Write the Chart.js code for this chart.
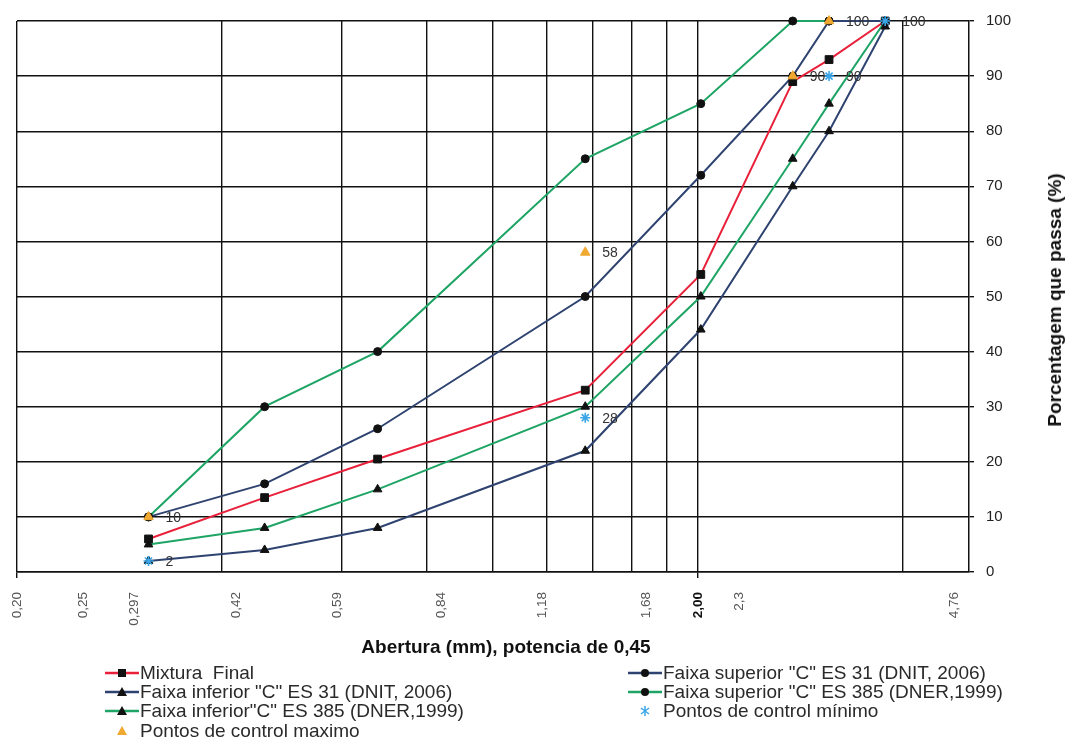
<!DOCTYPE html>
<html>
<head>
<meta charset="utf-8">
<script src="https://cdn.jsdelivr.net/npm/chart.js@4.4.0/dist/chart.umd.min.js"></script>
<style>
    body { margin: 0; background: #fff; font-family: "Liberation Sans", Arial, sans-serif; }
    #wrap { position: relative; width: 1072px; height: 739px; overflow: hidden; }
    #wrap canvas { position: absolute; left: 0; top: 0; }
    .titulo-x { position: absolute; left: 506px; top: 647px; transform: translate(-50%, -50%);
        font-weight: bold; font-size: 19px; color: #111; white-space: nowrap; }
    .titulo-y { position: absolute; left: 1055px; top: 300px; transform: translate(-50%, -50%) rotate(-90deg);
        font-weight: bold; font-size: 19px; color: #111; white-space: nowrap; }
    #legenda { position: absolute; left: 105px; top: 663px; display: grid;
        grid-template-columns: 523px auto; grid-auto-rows: 19.3px; }
    .leg { display: flex; align-items: center; font-size: 19px; color: #2a2a2a; white-space: pre; }
    .leg svg { margin-right: 1px; flex: none; }
</style>
</head>
<body>
<div id="wrap">
    <canvas id="grafico" width="1072" height="739"></canvas>
    <div class="titulo-x">Abertura (mm), potencia de 0,45</div>
    <div class="titulo-y">Porcentagem que passa (%)</div>
    <div id="legenda"></div>
</div>
<script>
// abertura das peneiras elevada a 0,45
const aberturaPot = [0.312, 0.462, 0.677, 1.366, 2.019, 2.755, 3.115, 3.766];

// % passante
const mixturaFinal  = [6, 13.5, 20.5, 33, 54, 89, 93, 100];
const supES31       = [10, 16, 26, 50, 72, 90, 100, 100];
const infES31       = [2, 4, 8, 22, 44, 70, 80, 99];
const supES385      = [10, 30, 40, 75, 85, 100, 100, 100];
const infES385      = [5, 8, 15, 30, 50, 75, 85, 100];

// pontos de controle
const pontosMinX = [0.312, 1.366, 3.115, 3.766];
const pontosMin  = [2, 28, 90, 100];
const pontosMaxX = [0.312, 1.366, 2.755, 3.115];
const pontosMax  = [10, 58, 90, 100];

// eixo x
const valoresRotulosX = [0.20, 0.25, 0.297, 0.42, 0.59, 0.84, 1.18, 1.68, 2.00, 2.3, 4.76];
const rotulosX = ['0,20', '0,25', '0,297', '0,42', '0,59', '0,84', '1,18', '1,68', '2,00', '2,3', '4,76'];
const linhasGradeX = [0.2, 0.4, 0.6, 0.8, 1.0, 1.2, 1.4, 1.6, 1.8, 2.0, 4.0];

const FONTE = '"Liberation Sans", Arial, sans-serif';
const VERMELHO = '#e8203a';
const AZUL = '#2f4370';
const VERDE = '#1ea464';

const pares = (xs, ys) => xs.map((x, i) => ({ x: x, y: ys[i] }));

function serie(label, ys, cor, estilo, raio, ordem) {
    return {
        label: label,
        data: pares(aberturaPot, ys),
        borderColor: cor,
        borderWidth: 2,
        pointStyle: estilo,
        pointRadius: raio,
        pointBackgroundColor: '#111',
        pointBorderColor: '#111',
        pointBorderWidth: 1,
        tension: 0,
        clip: 10,
        order: ordem
    };
}

const datasets = [
    serie('Mixtura  Final', mixturaFinal, VERMELHO, 'rect', 5.5, 1),
    serie('Faixa superior "C" ES 31 (DNIT, 2006)', supES31, AZUL, 'circle', 4, 2),
    serie('Faixa inferior "C" ES 31 (DNIT, 2006)', infES31, AZUL, 'triangle', 5, 3),
    serie('Faixa superior "C" ES 385 (DNER,1999)', supES385, VERDE, 'circle', 4, 4),
    serie('Faixa inferior"C" ES 385 (DNER,1999)', infES385, VERDE, 'triangle', 5, 5),
    {
        label: 'Pontos de control mínimo',
        data: pares(pontosMinX, pontosMin),
        showLine: false,
        pointStyle: 'star',
        pointRadius: 5,
        pointBorderColor: '#3aa6e8',
        pointBorderWidth: 1.6,
        borderColor: '#3aa6e8',
        clip: 10,
        order: 0,
        mostrarValor: true
    },
    {
        label: 'Pontos de control maximo',
        data: pares(pontosMaxX, pontosMax),
        showLine: false,
        pointStyle: 'triangle',
        pointRadius: 5.5,
        pointBackgroundColor: '#f0a830',
        pointBorderColor: '#f0a830',
        borderColor: '#f0a830',
        clip: 10,
        order: 0,
        mostrarValor: true
    }
];

// rótulos de valor ao lado dos pontos de controle
const rotulosValores = {
    id: 'rotulosValores',
    afterDatasetsDraw(chart) {
        const ctx = chart.ctx;
        chart.data.datasets.forEach((ds, i) => {
            if (!ds.mostrarValor) return;
            const meta = chart.getDatasetMeta(i);
            ctx.save();
            ctx.font = '14px ' + FONTE;
            ctx.fillStyle = '#333';
            ctx.textBaseline = 'middle';
            meta.data.forEach((pt, j) => ctx.fillText(String(ds.data[j].y), pt.x + 17, pt.y + 1));
            ctx.restore();
        });
    }
};

new Chart(document.getElementById('grafico'), {
    type: 'line',
    data: { datasets: datasets },
    plugins: [rotulosValores],
    options: {
        responsive: false,
        animation: false,
        layout: { padding: { left: 17, top: 20, right: 0, bottom: 0 } },
        plugins: { legend: { display: false }, tooltip: { enabled: false } },
        scales: {
            x: {
                type: 'logarithmic',
                position: 'bottom',
                min: 0.2,
                max: 5,
                weight: 0,
                afterBuildTicks: s => { s.ticks = linhasGradeX.map(v => ({ value: v })); },
                afterFit: s => { s.height = 6; },
                ticks: { display: false },
                grid: {
                    color: '#111',
                    lineWidth: 1.4,
                    drawTicks: true,
                    tickLength: 6,
                    tickColor: c => (c.tick && (c.tick.value === 0.2 || c.tick.value === 2)) ? '#111' : 'rgba(0,0,0,0)'
                },
                border: { color: '#111', width: 1.5 }
            },
            xRot: {
                type: 'logarithmic',
                axis: 'x',
                position: 'bottom',
                min: 0.2,
                max: 5,
                weight: 1,
                afterBuildTicks: s => { s.ticks = valoresRotulosX.map(v => ({ value: v })); },
                afterFit: s => { s.height = 161; },
                grid: { display: false, drawTicks: false },
                border: { display: false },
                ticks: {
                    autoSkip: false,
                    minRotation: 90,
                    maxRotation: 90,
                    padding: 14,
                    color: c => (c.tick && c.tick.value === 2) ? '#111' : '#555',
                    font: c => ({ family: FONTE, size: 13.5, weight: (c.tick && c.tick.value === 2) ? 'bold' : 'normal' }),
                    callback: (v, i) => rotulosX[i]
                }
            },
            y: {
                position: 'right',
                min: 0,
                max: 100,
                afterFit: s => { s.width = 103; },
                ticks: { stepSize: 10, padding: 12, color: '#222', font: { family: FONTE, size: 15 } },
                grid: { color: '#111', lineWidth: 1.4, tickLength: 5 },
                border: { color: '#111', width: 1.5 }
            }
        }
    }
});

// legenda em duas colunas, como no original
function icone(ds) {
    const cor = ds.borderColor;
    let linha = ds.showLine === false ? '' : `<line x1="0" y1="7" x2="34" y2="7" stroke="${cor}" stroke-width="2.5"/>`;
    let marca = '';
    if (ds.pointStyle === 'rect') marca = '<rect x="13" y="3" width="8" height="8" fill="#111"/>';
    else if (ds.pointStyle === 'circle') marca = '<circle cx="17" cy="7" r="4" fill="#111"/>';
    else if (ds.pointStyle === 'triangle') {
        const f = ds.showLine === false ? ds.pointBackgroundColor : '#111';
        marca = `<polygon points="17,2 22,11 12,11" fill="${f}"/>`;
    } else if (ds.pointStyle === 'star') {
        marca = `<g stroke="${cor}" stroke-width="1.5"><line x1="17" y1="2" x2="17" y2="12"/><line x1="13" y1="4" x2="21" y2="10"/><line x1="13" y1="10" x2="21" y2="4"/></g>`;
    }
    return `<svg width="34" height="14">${linha}${marca}</svg>`;
}

document.getElementById('legenda').innerHTML = datasets.map(ds =>
    `<div class="leg">${icone(ds)}${ds.label}</div>`
).join('');
</script>
</body>
</html>
